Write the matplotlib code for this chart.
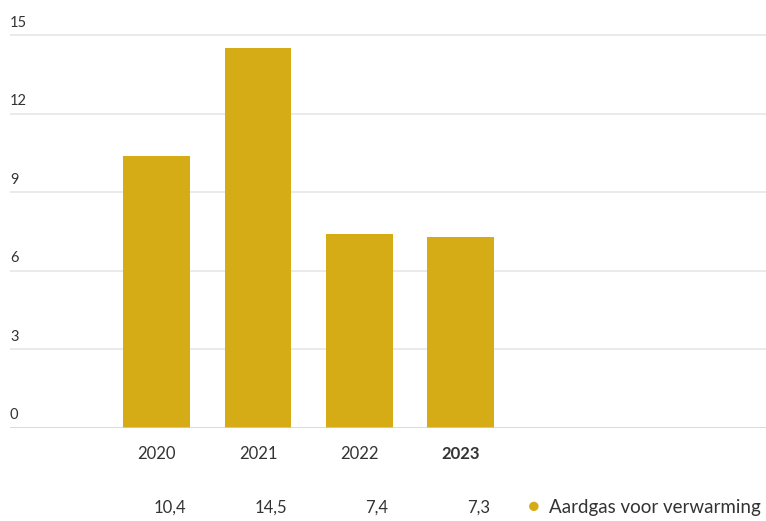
import matplotlib.pyplot as plt
import matplotlib.transforms as mtransforms

years = ["2020", "2021", "2022", "2023"]
values = [10.4, 14.5, 7.4, 7.3]
value_labels = ["10,4", "14,5", "7,4", "7,3"]
y_ticks = [0, 3, 6, 9, 12, 15]
series_name = "Aardgas voor verwarming"

bar_color = "#D6AC16"
text_color = "#333333"
plt.rcParams['font.family'] = ['Lato', 'DejaVu Sans']

fig = plt.figure(figsize=(7.66, 5.21), dpi=100)
ax = fig.add_axes([10 / 766, 93 / 521, 756 / 766, 428 / 521])

x = list(range(len(years)))
ax.bar(x, values, width=0.66, color=bar_color, zorder=3)

ax.set_xlim(-1.45, 6.02)
ax.set_ylim(0, 16.34)

# horizontal grid lines with labels sitting above them
for v in y_ticks:
    if v == 0:
        ax.axhline(v, color="#cfcfcf", lw=1.8, zorder=4)
    else:
        ax.axhline(v, color="#e8e8e8", lw=1.3, zorder=1)
    ax.annotate(str(v), xy=(0, v), xycoords=('axes fraction', 'data'),
                xytext=(0, 4), textcoords='offset points',
                ha='left', va='bottom', fontsize=10.5, color=text_color)

ax.set_yticks([])
ax.set_xticks(x)
ax.set_xticklabels(years, fontsize=12, color=text_color)
ax.get_xticklabels()[-1].set_fontweight('bold')
ax.tick_params(axis='x', length=0, pad=13)
for s in ax.spines.values():
    s.set_visible(False)

# value row under the chart
trans = mtransforms.blended_transform_factory(ax.transData, fig.transFigure)
for xi, lab in zip(x, value_labels):
    ax.text(xi + 0.29, 0.025, lab, transform=trans, ha='right', va='center',
            fontsize=12, color=text_color)

# legend
fig.text(534 / 766, 0.027, "\u25CF", ha='center', va='center', fontsize=14,
         color=bar_color)
fig.text(549 / 766, 0.025, series_name, ha='left', va='center',
         fontsize=13.5, color=text_color)

fig.savefig("out.png", dpi=100)
